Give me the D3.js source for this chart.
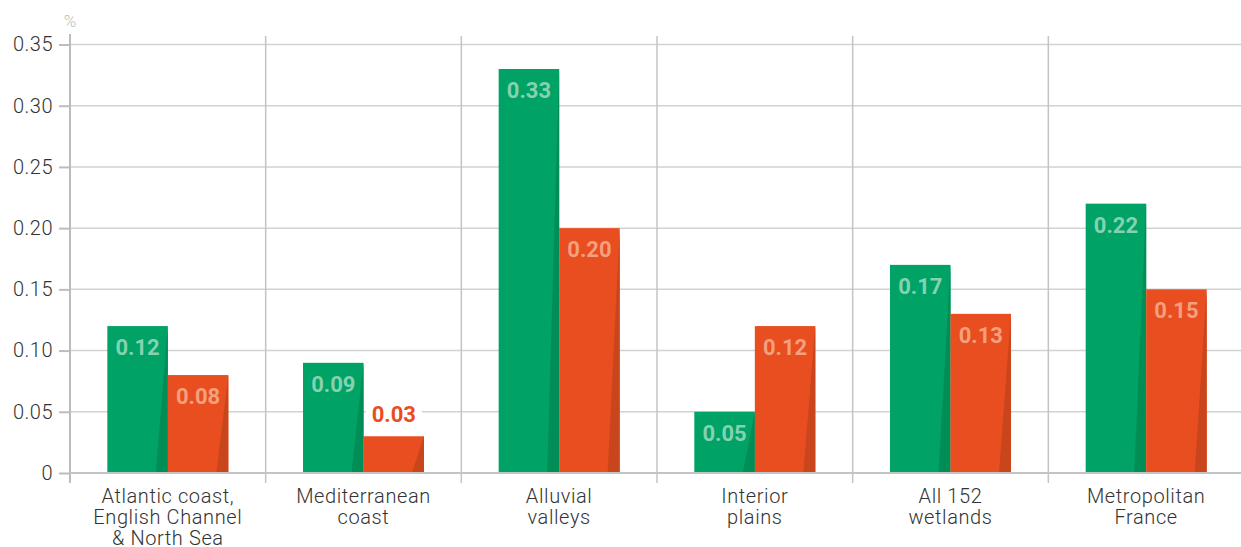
<!DOCTYPE html>
<html>
<head>
<meta charset="utf-8">
<script src="https://cdn.jsdelivr.net/npm/d3@7"></script>
<style>
  body { margin: 0; background: #fff; }
  svg { display: block; font-family: Roboto, "Liberation Sans", sans-serif; }
</style>
</head>
<body>
<svg id="chart" width="1241" height="547"></svg>
<script>
// regions (multi-line labels)
var categories = [
  ["Atlantic coast,", "English Channel", "& North Sea"],
  ["Mediterranean", "coast"],
  ["Alluvial", "valleys"],
  ["Interior", "plains"],
  ["All 152", "wetlands"],
  ["Metropolitan", "France"]
];
var greenValues = [0.12, 0.09, 0.33, 0.05, 0.17, 0.22];
var orangeValues = [0.08, 0.03, 0.20, 0.12, 0.13, 0.15];
var yTicks = [0, 0.05, 0.10, 0.15, 0.20, 0.25, 0.30, 0.35];
var yTickLabels = ["0", "0.05", "0.10", "0.15", "0.20", "0.25", "0.30", "0.35"];

var svg = d3.select("#chart");
var left = 70, right = 1244, topY = 36, baseline = 473;

var x = d3.scaleBand()
    .domain(d3.range(categories.length))
    .range([left, right]);

var y = d3.scaleLinear()
    .domain([0, 0.35])
    .range([baseline, 44.5]);

var barW = 60.5;

// horizontal gridlines
svg.append("g")
  .selectAll("line")
  .data(yTicks.slice(1))
  .join("line")
    .attr("x1", left).attr("x2", 1241)
    .attr("y1", d => y(d)).attr("y2", d => y(d))
    .attr("stroke", "#d2d2d2")
    .attr("stroke-width", 1.5);

// vertical dividers between regions
svg.append("g")
  .selectAll("line")
  .data(d3.range(1, categories.length))
  .join("line")
    .attr("x1", d => x(d)).attr("x2", d => x(d))
    .attr("y1", topY).attr("y2", baseline + 10)
    .attr("stroke", "#c4c4c4")
    .attr("stroke-width", 1.5);

// y axis
var yAxis = svg.append("g")
    .attr("transform", "translate(" + left + ",0)")
    .call(d3.axisLeft(y)
        .tickValues(yTicks)
        .tickFormat((d, i) => yTickLabels[i])
        .tickSize(11)
        .tickPadding(6));
yAxis.select(".domain").remove();
yAxis.selectAll(".tick line").attr("stroke", "#bcbcbc").attr("stroke-width", 2);
yAxis.selectAll(".tick text")
    .attr("fill", "#333")
    .attr("font-size", 20)
    .attr("font-weight", 300)
    .attr("letter-spacing", 0.5)
    .attr("font-family", "Roboto, sans-serif");

svg.append("line")
    .attr("x1", left).attr("x2", left)
    .attr("y1", topY - 2).attr("y2", baseline + 10)
    .attr("stroke", "#bcbcbc").attr("stroke-width", 2);

svg.append("text")
    .attr("x", left).attr("y", 27)
    .attr("text-anchor", "middle")
    .attr("fill", "#bdbdbd")
    .attr("font-size", 17)
    .attr("font-weight", 300)
    .text("%");

// bars
function drawBars(values, offset, color, shade, labelColor) {
  var g = svg.append("g");
  values.forEach(function(v, i) {
    var cx = x(i) + x.bandwidth() / 2;
    var x0 = cx + offset;
    var x1 = x0 + barW;
    var yt = y(v);
    g.append("rect")
      .attr("x", x0).attr("y", yt)
      .attr("width", barW).attr("height", baseline - yt)
      .attr("fill", color);
    // darker wedge on right side
    g.append("path")
      .attr("d", "M" + x1 + "," + yt + "L" + x1 + "," + baseline +
                 "L" + (x1 - 12) + "," + baseline + "Z")
      .attr("fill", shade);

    var small = baseline - yt < 50;
    var tx = x0 + barW / 2;
    var ty = small ? yt - 14 : yt + 29;
    var lbl = g.append("g");
    if (small) {
      lbl.append("rect")
        .attr("x", tx - 28).attr("y", ty - 20)
        .attr("width", 56).attr("height", 26)
        .attr("fill", "#fff");
    }
    lbl.append("text")
      .attr("x", tx).attr("y", ty)
      .attr("text-anchor", "middle")
      .attr("font-size", 22)
      .attr("font-weight", 700)
      .attr("fill", small ? color : labelColor)
      .text(v.toFixed(2));
  });
}

drawBars(greenValues, -barW, "#00a265", "#008e56", "#84d2b1");
drawBars(orangeValues, 0, "#e84e1f", "#c9451b", "#f4a07f");

// baseline
svg.append("line")
    .attr("x1", left).attr("x2", 1241)
    .attr("y1", baseline).attr("y2", baseline)
    .attr("stroke", "#c4c4c4").attr("stroke-width", 2);

// category labels
var lab = svg.append("g");
categories.forEach(function(lines, i) {
  var t = lab.append("text")
    .attr("x", x(i) + x.bandwidth() / 2)
    .attr("y", 503)
    .attr("text-anchor", "middle")
    .attr("fill", "#333")
    .attr("font-size", 20)
    .attr("font-weight", 300)
    .attr("letter-spacing", 0.6);
  lines.forEach(function(s, k) {
    t.append("tspan")
      .attr("x", x(i) + x.bandwidth() / 2)
      .attr("dy", k === 0 ? 0 : 21)
      .text(s);
  });
});
</script>
</body>
</html>
